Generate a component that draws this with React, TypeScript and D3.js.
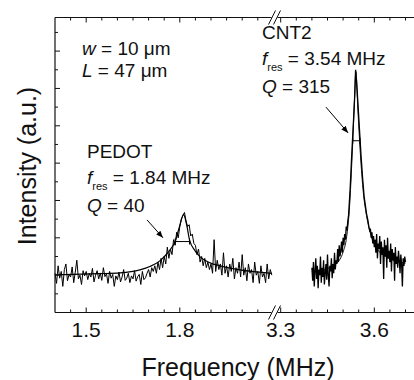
import React from "react";
import * as d3 from "d3";

// ---------- data ----------
const pedotStart = 1.40;
const pedotStep = 0.005;
const pedotIntensity = [
  1.05, 0.78, 1.25, 0.92, 1.10, 0.70, 1.15, 1.30, 0.85, 1.02, 0.95, 1.22, 0.80, 1.08, 1.40, 0.90, 1.00, 0.75, 1.12, 0.98,
  1.10, 0.88, 1.05, 0.95, 1.18, 0.82, 1.00, 1.12, 0.90, 1.06, 0.86, 1.20, 0.96, 1.04, 0.78, 1.10, 0.92, 1.02, 0.70, 0.98,
  0.88, 1.08, 0.82, 0.95, 1.15, 0.86, 0.92, 1.05, 0.80, 0.98, 0.90, 1.12, 0.84, 0.96, 1.02, 0.75, 1.10, 0.88, 0.93, 1.05,
  1.15, 0.95, 1.20, 1.10, 1.25, 1.05, 1.35, 1.15, 1.45, 1.20, 1.50, 1.30, 1.75, 1.45, 1.70, 1.55, 1.95, 1.80, 2.15, 2.00,
  2.30, 2.50, 2.60, 2.68, 2.45, 2.30, 2.35, 2.05, 2.10, 1.85,
  1.80, 1.55, 1.70, 1.35, 1.50, 1.25, 1.45, 1.20, 1.35, 1.15,
  1.30, 1.05, 1.95, 1.10, 1.40, 1.15, 1.30, 1.00, 1.60, 1.05,
  1.25, 0.95, 1.30, 1.10, 1.45, 0.90, 1.20, 1.05, 1.35, 0.95,
  1.55, 1.00, 1.20, 0.85, 1.30, 1.05, 1.15, 0.80, 1.35, 1.00,
  1.10, 0.78, 1.25, 0.95, 1.05, 0.80, 1.30, 0.90, 1.15, 1.00,
];
const pedotFitFreq = [1.40, 1.544, 1.608, 1.672, 1.704, 1.737, 1.753, 1.769, 1.785, 1.798, 1.812, 1.822, 1.831, 1.849, 1.865, 1.897, 1.929, 1.993, 2.095];
const pedotFitIntensity = [1.01, 1.04, 1.06, 1.14, 1.23, 1.39, 1.52, 1.68, 1.90, 2.27, 2.62, 2.35, 1.95, 1.65, 1.49, 1.33, 1.25, 1.14, 1.05];

const cntStart = 3.40;
const cntStep = 0.0025;
const cntIntensity = [
  1.20, 0.85, 1.35, 0.70, 1.10, 1.45, 0.90, 1.25, 0.65, 1.15, 1.00, 1.50, 0.80, 1.20, 0.95, 1.40,
  0.75, 1.05, 1.30, 0.88, 1.55, 1.00, 0.70, 1.25, 1.10, 1.45, 0.92, 1.30, 1.05, 1.60, 1.15, 1.40,
  1.30, 1.70, 1.35, 1.80, 1.50, 1.65, 1.90, 1.60, 2.00, 1.80, 2.10, 1.95, 2.30, 2.20, 2.45, 2.60,
  2.95, 3.30, 3.75, 4.20, 4.60, 5.00, 5.40, 5.85, 6.50, 6.25, 5.95, 5.60, 5.25, 4.90, 4.55, 4.20,
  3.90, 3.60, 3.35, 3.10, 2.95, 2.80, 2.65, 2.55, 2.45, 2.30, 2.20, 2.25, 2.00, 2.15, 1.85, 2.05, 1.75,
  1.95, 1.60, 2.10, 1.45, 1.85, 1.70, 2.05, 1.30, 1.90,
  1.55, 1.75, 0.90, 1.95, 1.50, 1.80, 1.20, 2.00, 1.45, 1.65,
  1.35, 1.85, 1.10, 1.70, 1.40, 1.60, 0.85, 1.75, 1.30, 1.50,
  1.20, 1.65, 1.40, 1.05, 1.55, 1.30, 0.70, 1.45, 1.25, 1.50,
  1.35,
];
const cntFitFreq = [3.40, 3.45, 3.48, 3.50, 3.51, 3.52, 3.53, 3.536, 3.541, 3.547, 3.555, 3.565, 3.575, 3.59, 3.61, 3.64, 3.70];
const cntFitIntensity = [1.10, 1.18, 1.32, 1.62, 1.95, 2.75, 4.40, 5.60, 6.45, 5.50, 4.30, 3.20, 2.60, 2.05, 1.70, 1.48, 1.32];

const majorTicksLeft = [1.5, 1.8];
const majorTicksRight = [3.3, 3.6];
const xTickLabelsLeft = ["1.5", "1.8"];
const xTickLabelsRight = ["3.3", "3.6"];

// half-width markers: [fLow, fHigh, level]
const pedotHalfWidth = [1.785, 1.831, 1.90];
const cntHalfWidth = [3.531, 3.554, 4.60];
// arrows: [f0, i0, f1, i1]
const pedotArrow = [1.695, 2.48, 1.746, 2.0];
const cntArrow = [3.445, 5.50, 3.516, 4.81];

// ---------- layout ----------
const W = 414;
const H = 380;
const plotLeft = 55;
const plotTop = 17.5;
const plotBottom = 312.5;
const plotRight = 414;
const breakX = 274.5;
const pxPerMHz = 312;
const FONT = "'Liberation Sans', Arial, Helvetica, sans-serif";

export default function App() {
  const xL = d3.scaleLinear()
    .domain([1.40, 1.40 + (breakX - plotLeft) / pxPerMHz])
    .range([plotLeft, breakX]);
  const xR = d3.scaleLinear()
    .domain([3.6 - (374.3 - breakX) / pxPerMHz, 3.6 + (plotRight - 374.3) / pxPerMHz])
    .range([breakX, plotRight]);
  const y = d3.scaleLinear().domain([0, 7.9]).range([plotBottom, plotTop]);

  const pedotPts = pedotIntensity.map((v, i) => [pedotStart + i * pedotStep, v] as [number, number]);
  const cntPts = cntIntensity.map((v, i) => [cntStart + i * cntStep, v] as [number, number]);

  const lineL = d3.line<[number, number]>().x(d => xL(d[0])).y(d => y(d[1]));
  const lineR = d3.line<[number, number]>().x(d => xR(d[0])).y(d => y(d[1]));
  const fitL = d3.line<[number, number]>().x(d => xL(d[0])).y(d => y(d[1])).curve(d3.curveMonotoneX);
  const fitR = d3.line<[number, number]>().x(d => xR(d[0])).y(d => y(d[1])).curve(d3.curveMonotoneX);

  const pedotFit = pedotFitFreq.map((f, i) => [f, pedotFitIntensity[i]] as [number, number]);
  const cntFit = cntFitFreq.map((f, i) => [f, cntFitIntensity[i]] as [number, number]);

  const isMajor = (v: number) => Math.round(v * 100) % 30 === 0;
  const leftTicks = d3.range(29, 43).map(i => i * 0.05).filter(v => xL(v) < breakX - 3);
  const rightTicks = d3.range(66, 76).map(i => i * 0.05).filter(v => xR(v) > breakX + 3 && xR(v) < W);
  const xTicks = [
    ...leftTicks.map(v => ({ x: xL(v), major: isMajor(v) })),
    ...rightTicks.map(v => ({ x: xR(v), major: isMajor(v) })),
  ];
  const yTicks = d3.range(1, 16).map(i => i * 0.5).map(v => ({ y: y(v), major: Number.isInteger(v) }));

  const axisColor = "#111";
  const aw = 1.2;

  const breakMarks = (yy: number, key: string) => (
    <g key={key}>
      <rect x={breakX - 3} y={yy - 2} width={6} height={4} fill="#fff" />
      <line x1={breakX - 2.5 - 3.5} y1={yy + 7} x2={breakX - 2.5 + 3.5} y2={yy - 7} stroke={axisColor} strokeWidth={1} />
      <line x1={breakX + 2.5 - 3.5} y1={yy + 7} x2={breakX + 2.5 + 3.5} y2={yy - 7} stroke={axisColor} strokeWidth={1} />
    </g>
  );

  const halfBar = (xs: (v: number) => number, hw: number[], key: string) => {
    const x1 = xs(hw[0]);
    const x2 = xs(hw[1]);
    const yy = y(hw[2]);
    return (
      <g key={key} stroke="#000" strokeWidth={1}>
        <line x1={x1} y1={yy} x2={x2} y2={yy} />
        <line x1={x1} y1={yy - 3} x2={x1} y2={yy + 3} />
        <line x1={x2} y1={yy - 3} x2={x2} y2={yy + 3} />
      </g>
    );
  };

  const arrow = (xs: (v: number) => number, a: number[], key: string) => (
    <line key={key} x1={xs(a[0])} y1={y(a[1])} x2={xs(a[2])} y2={y(a[3])} stroke="#000" strokeWidth={1} markerEnd="url(#arrowhead)" />
  );

  return (
    <svg width={W} height={H} style={{ position: "absolute", left: 0, top: 0, background: "#fff" }} fontFamily={FONT}>
      <defs>
        <marker id="arrowhead" viewBox="0 0 10 10" refX={10} refY={5} markerWidth={7} markerHeight={7} markerUnits="userSpaceOnUse" orient="auto">
          <path d="M0,1 L10,5 L0,9 z" fill="#000" />
        </marker>
      </defs>
      <rect width={W} height={H} fill="#fff" />

      {/* data */}
      <path d={lineL(pedotPts) || ""} fill="none" stroke="#000" strokeWidth={1} />
      <path d={fitL(pedotFit) || ""} fill="none" stroke="#000" strokeWidth={1.2} />
      <path d={lineR(cntPts) || ""} fill="none" stroke="#000" strokeWidth={1.3} />
      <path d={fitR(cntFit) || ""} fill="none" stroke="#000" strokeWidth={0.9} />

      {halfBar(xL, pedotHalfWidth, "hwp")}
      {halfBar(xR, cntHalfWidth, "hwc")}
      {arrow(xL, pedotArrow, "ap")}
      {arrow(xR, cntArrow, "ac")}

      {/* axes */}
      <line x1={plotLeft} y1={plotTop} x2={plotLeft} y2={plotBottom} stroke={axisColor} strokeWidth={aw} />
      <line x1={plotLeft} y1={plotBottom} x2={plotRight} y2={plotBottom} stroke={axisColor} strokeWidth={aw} />
      <line x1={plotLeft} y1={plotTop} x2={plotRight} y2={plotTop} stroke={axisColor} strokeWidth={aw} />
      {xTicks.map((t, i) => (
        <g key={"xt" + i} stroke={axisColor} strokeWidth={1}>
          <line x1={t.x} y1={plotBottom} x2={t.x} y2={plotBottom - (t.major ? 5 : 3)} />
          <line x1={t.x} y1={plotTop} x2={t.x} y2={plotTop + (t.major ? 5 : 3)} />
        </g>
      ))}
      {yTicks.map((t, i) => (
        <line key={"yt" + i} x1={plotLeft} y1={t.y} x2={plotLeft + (t.major ? 5 : 3)} y2={t.y} stroke={axisColor} strokeWidth={1} />
      ))}
      {breakMarks(plotBottom, "bb")}
      {breakMarks(plotTop, "bt")}

      {/* tick labels */}
      {majorTicksLeft.map((v, i) => (
        <text key={"tl" + i} x={xL(v)} y={336.5} fontSize={21} textAnchor="middle" fill="#111">{xTickLabelsLeft[i]}</text>
      ))}
      {majorTicksRight.map((v, i) => (
        <text key={"tr" + i} x={xR(v)} y={336.5} fontSize={21} textAnchor="middle" fill="#111">{xTickLabelsRight[i]}</text>
      ))}

      {/* axis titles */}
      <text x={238} y={376} fontSize={25} textAnchor="middle" fill="#111">Frequency (MHz)</text>
      <text transform="translate(36,166) rotate(-90)" fontSize={25} textAnchor="middle" fill="#111">Intensity (a.u.)</text>

      {/* annotations */}
      <g fontSize={19} fill="#111">
        <text x={82} y={55}><tspan fontStyle="italic">w</tspan> = 10 μm</text>
        <text x={82} y={77}><tspan fontStyle="italic">L</tspan> = 47 μm</text>

        <text x={87} y={158}>PEDOT</text>
        <text x={87} y={184}>
          <tspan fontStyle="italic">f</tspan>
          <tspan fontSize={11} dy={6}>res</tspan>
          <tspan dy={-6}> = 1.84 MHz</tspan>
        </text>
        <text x={87} y={212}><tspan fontStyle="italic">Q</tspan> = 40</text>

        <text x={262} y={39}>CNT2</text>
        <text x={262} y={65}>
          <tspan fontStyle="italic">f</tspan>
          <tspan fontSize={11} dy={6}>res</tspan>
          <tspan dy={-6}> = 3.54 MHz</tspan>
        </text>
        <text x={262} y={93}><tspan fontStyle="italic">Q</tspan> = 315</text>
      </g>
    </svg>
  );
}
